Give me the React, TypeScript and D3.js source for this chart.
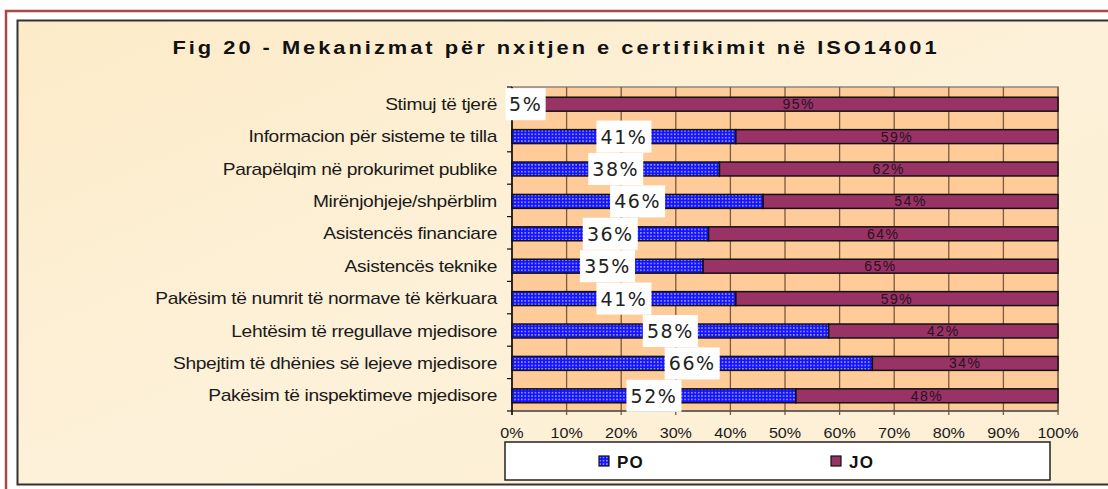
import React from "react";
import * as d3 from "d3";

const categories = [
  "Stimuj të tjerë",
  "Informacion për sisteme te tilla",
  "Parapëlqim në prokurimet publike",
  "Mirënjohjeje/shpërblim",
  "Asistencës financiare",
  "Asistencës teknike",
  "Pakësim të numrit të normave të kërkuara",
  "Lehtësim të rregullave mjedisore",
  "Shpejtim të dhënies së lejeve mjedisore",
  "Pakësim të inspektimeve mjedisore",
];
const po = [5, 41, 38, 46, 36, 35, 41, 58, 66, 52];
const jo = [95, 59, 62, 54, 64, 65, 59, 42, 34, 48];
const xTicks = [0, 10, 20, 30, 40, 50, 60, 70, 80, 90, 100];
const seriesNames = ["PO", "JO"];
const title = "Fig 20 - Mekanizmat për nxitjen e certifikimit në ISO14001";

const W = 1108;
const H = 489;
const plot = { left: 512, right: 1058, top: 87, bottom: 411 };

export default function App() {
  const x = d3.scaleLinear().domain([0, 100]).range([plot.left, plot.right]);
  const y = d3.scaleBand<string>().domain(categories).range([plot.top, plot.bottom]).padding(0);
  const bw = y.bandwidth();
  const barH = bw * 0.43;
  const font = "Arial, 'Liberation Sans', sans-serif";

  return (
    <svg width={W} height={H} style={{ position: "absolute", left: 0, top: 0 }} fontFamily={font}>
      <defs>
        <pattern id="dots" width="3.4" height="3.4" patternUnits="userSpaceOnUse">
          <rect width="3.4" height="3.4" fill="#1414ff" />
          <rect x="1" y="1" width="1.3" height="1.3" fill="#d8d8ff" />
        </pattern>
        <linearGradient id="bg" x1="0" y1="0" x2="1" y2="1">
          <stop offset="0" stopColor="#fcebc8" />
          <stop offset="0.5" stopColor="#fdf1d9" />
          <stop offset="1" stopColor="#fcefd4" />
        </linearGradient>
      </defs>
      <rect x={0} y={0} width={W} height={H} fill="#ffffff" />
      <rect x={6} y={11} width={W + 20} height={H + 20} fill="none" stroke="#a84848" strokeWidth={2.5} />
      <rect x={17.5} y={20.5} width={W} height={464} fill="url(#bg)" stroke="#333" strokeWidth={2} />

      <text transform="translate(556,53.5) scale(1.15,1)" textAnchor="middle" fontSize={19} fontWeight="bold" fill="#111" letterSpacing={2.6}>
        {title}
      </text>

      {/* plot area */}
      <rect x={plot.left} y={plot.top} width={plot.right - plot.left} height={plot.bottom - plot.top} fill="#ffcc99" stroke="#888" strokeWidth={1.5} />
      {xTicks.map((t) => (
        <line key={"g" + t} x1={x(t)} x2={x(t)} y1={plot.top} y2={plot.bottom + 4} stroke="#7a5a3c" strokeWidth={1.3} />
      ))}
      <line x1={plot.left} x2={plot.right} y1={plot.bottom} y2={plot.bottom} stroke="#555" strokeWidth={1.3} />
      <line x1={plot.left} x2={plot.left} y1={plot.top} y2={plot.bottom + 4} stroke="#111" strokeWidth={1.5} />
      {d3.range(categories.length + 1).map((i) => (
        <line key={"ct" + i} x1={plot.left - 5} x2={plot.left} y1={plot.top + i * bw} y2={plot.top + i * bw} stroke="#111" strokeWidth={1.2} />
      ))}

      {categories.map((c, i) => {
        const cy = (y(c) as number) + bw / 2 + 1;
        const x0 = x(0);
        const x1 = x(po[i]);
        const x2 = x(po[i] + jo[i]);
        return (
          <g key={c}>
            <text transform={`translate(497,${cy + 5.5}) scale(1.2,1)`} textAnchor="end" fontSize={16} fill="#1a1a1a" letterSpacing={-0.3}>
              {c}
            </text>
            <rect x={x0} y={cy - barH / 2} width={x1 - x0} height={barH} fill="url(#dots)" stroke="#111" strokeWidth={1.5} />
            <rect x={x1} y={cy - barH / 2} width={x2 - x1} height={barH} fill="#993366" stroke="#111" strokeWidth={1.5} />
            <text x={(x1 + x2) / 2} y={cy + 5} textAnchor="middle" fontSize={14} fill="#2a1020" letterSpacing={1.5}>
              {jo[i]}%
            </text>
          </g>
        );
      })}
      {categories.map((c, i) => {
        const cy = (y(c) as number) + bw / 2 + 1;
        const mx = (x(0) + x(po[i])) / 2;
        const label = po[i] + "%";
        const tw = label.length * 15 + 2;
        return (
          <g key={"l" + c}>
            <rect x={mx - tw / 2 - 4} y={cy - 16} width={tw + 8} height={32} fill="#ffffff" />
            <text x={mx} y={cy + 7} textAnchor="middle" fontSize={19} fill="#222" fontFamily="'DejaVu Sans', Verdana, sans-serif" letterSpacing={1.5}>
              {label}
            </text>
          </g>
        );
      })}

      {xTicks.map((t) => (
        <text key={"xt" + t} transform={`translate(${x(t)},438) scale(1.15,1)`} textAnchor="middle" fontSize={14} fill="#1a1a1a">
          {t}%
        </text>
      ))}

      {/* legend */}
      <rect x={505} y={442} width={545} height={38} fill="#ffffff" stroke="#222" strokeWidth={1.5} />
      {seriesNames.map((s, i) => {
        const lx = i === 0 ? 599 : 831;
        return (
          <g key={s}>
            <rect x={lx} y={456} width={10} height={10} fill={i === 0 ? "url(#dots)" : "#993366"} stroke="#111" strokeWidth={1.2} />
            <text x={lx + 18} y={467.5} fontSize={17} fontWeight="bold" fill="#111" letterSpacing={1.2}>
              {s}
            </text>
          </g>
        );
      })}
    </svg>
  );
}
